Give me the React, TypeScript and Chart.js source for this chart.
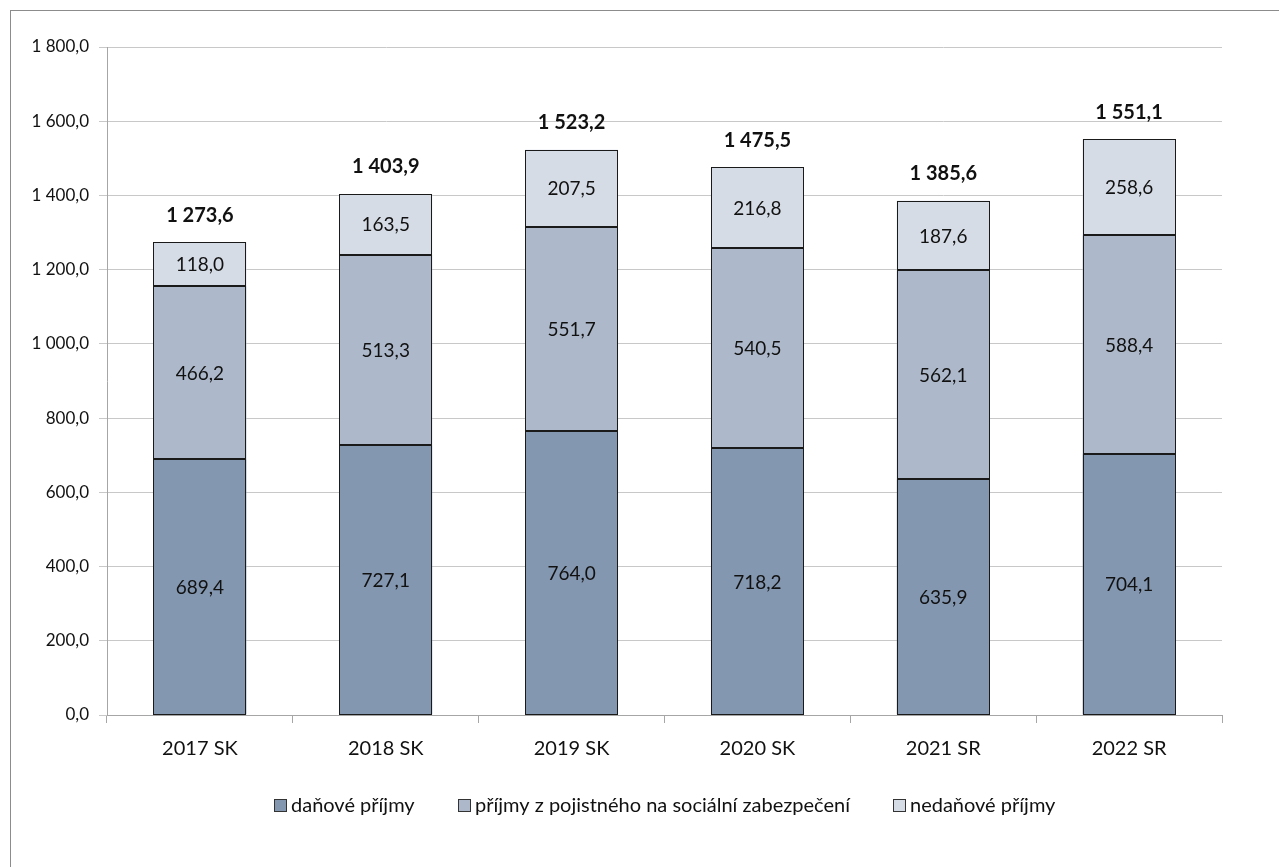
import React, { useEffect, useRef } from "react";
import { Chart, registerables } from "chart.js";

Chart.register(...registerables);

const categories = ["2017 SK", "2018 SK", "2019 SK", "2020 SK", "2021 SR", "2022 SR"];
const danovePrijmy = [689.4, 727.1, 764.0, 718.2, 635.9, 704.1];
const prijmyPoistne = [466.2, 513.3, 551.7, 540.5, 562.1, 588.4];
const nedanovePrijmy = [118.0, 163.5, 207.5, 216.8, 187.6, 258.6];
const totals = [1273.6, 1403.9, 1523.2, 1475.5, 1385.6, 1551.1];
const seriesNames = [
  "daňové příjmy",
  "příjmy z pojistného na sociální zabezpečení",
  "nedaňové příjmy",
];
const seriesColors = ["#8497b0", "#adb9ca", "#d6dce5"];

const FONT = "Lato, 'Open Sans', sans-serif";

function fmt(v: number): string {
  const fixed = v.toFixed(1);
  const [intPart, dec] = fixed.split(".");
  const withSpaces = intPart.replace(/\B(?=(\d{3})+(?!\d))/g, " ");
  return withSpaces + "," + dec;
}

const labelPlugin = {
  id: "barLabels",
  afterDatasetsDraw(chart: any) {
    const ctx = chart.ctx;
    ctx.save();
    // crisp outlines for each bar segment
    ctx.strokeStyle = "#1a1a1a";
    ctx.lineWidth = 1;
    chart.data.datasets.forEach((_ds: any, di: number) => {
      const meta = chart.getDatasetMeta(di);
      meta.data.forEach((el: any) => {
        const l = Math.round(el.x - el.width / 2) + 0.5;
        const r = Math.round(el.x + el.width / 2) - 0.5;
        const t = Math.round(Math.min(el.y, el.base)) + 0.5;
        const b = Math.round(Math.max(el.y, el.base)) - 0.5;
        ctx.strokeRect(l, t, r - l, b - t);
      });
    });
    ctx.textAlign = "center";
    ctx.textBaseline = "middle";
    ctx.fillStyle = "#111111";
    chart.data.datasets.forEach((ds: any, di: number) => {
      const meta = chart.getDatasetMeta(di);
      meta.data.forEach((el: any, i: number) => {
        const v = ds.data[i];
        const yc = (el.y + el.base) / 2;
        ctx.font = `19px ${FONT}`;
        ctx.fillText(fmt(v), el.x, yc + 1);
      });
    });
    const last = chart.getDatasetMeta(chart.data.datasets.length - 1);
    last.data.forEach((el: any, i: number) => {
      ctx.font = `bold 20px ${FONT}`;
      ctx.fillText(fmt(totals[i]), el.x, el.y - 27);
    });
    ctx.restore();
  },
};

const legendPlugin = {
  id: "customLegend",
  afterDraw(chart: any) {
    const ctx = chart.ctx;
    const area = chart.chartArea;
    ctx.save();
    ctx.font = `20px ${FONT}`;
    ctx.textBaseline = "middle";
    ctx.textAlign = "left";
    const box = 12;
    const gapText = 5;
    const gapItem = 43;
    const widths = chart.data.datasets.map((ds: any) => box + gapText + ctx.measureText(ds.label).width);
    const total = widths.reduce((a: number, b: number) => a + b, 0) + gapItem * (widths.length - 1);
    let x = Math.round((area.left + area.right) / 2 - total / 2);
    const y = 805;
    chart.data.datasets.forEach((ds: any, i: number) => {
      ctx.fillStyle = ds.backgroundColor;
      ctx.fillRect(x + 0.5, y - box / 2 + 0.5, box, box);
      ctx.strokeStyle = "#333333";
      ctx.lineWidth = 1;
      ctx.strokeRect(x + 0.5, y - box / 2 + 0.5, box, box);
      ctx.fillStyle = "#111111";
      ctx.fillText(ds.label, x + box + gapText, y + 1);
      x = Math.round(x + widths[i] + gapItem);
    });
    ctx.restore();
  },
};

export default function App() {
  const ref = useRef<HTMLCanvasElement | null>(null);
  useEffect(() => {
    if (!ref.current) return;
    const common = { borderWidth: 0, borderSkipped: false, inflateAmount: 0, barPercentage: 0.5, categoryPercentage: 1 };
    const chart = new Chart(ref.current, {
      type: "bar",
      data: {
        labels: categories,
        datasets: [
          { label: seriesNames[0], data: danovePrijmy, backgroundColor: seriesColors[0], ...common },
          { label: seriesNames[1], data: prijmyPoistne, backgroundColor: seriesColors[1], ...common },
          { label: seriesNames[2], data: nedanovePrijmy, backgroundColor: seriesColors[2], ...common },
        ],
      },
      options: {
        animation: false,
        responsive: true,
        maintainAspectRatio: false,
        layout: { padding: { left: 0, top: 47, right: 57, bottom: 92 } },
        plugins: {
          tooltip: { enabled: false },
          legend: { display: false },
        },
        scales: {
          x: {
            stacked: true,
            afterFit(scale: any) {
              scale.height = 60;
            },
            grid: { drawOnChartArea: false, drawTicks: true, tickLength: 8, color: "#a6a6a6", offset: true },
            border: { color: "#a6a6a6" },
            ticks: { color: "#111111", padding: 14, font: { family: FONT, size: 20 } },
          },
          y: {
            stacked: true,
            min: 0,
            max: 1800,
            afterFit(scale: any) {
              scale.width = 107;
            },
            grid: { color: "#c8c8c8", tickLength: 8 },
            border: { color: "#a6a6a6" },
            ticks: {
              stepSize: 200,
              padding: 10,
              color: "#111111",
              font: { family: FONT, size: 17 },
              callback: (v: any) => fmt(Number(v)),
            },
          },
        },
      } as any,
      plugins: [labelPlugin, legendPlugin],
    });
    return () => chart.destroy();
  }, []);

  return (
    <div style={{ position: "fixed", left: 0, top: 0, width: 1279, height: 867, overflow: "hidden", background: "#fff" }}>
      <div style={{ position: "absolute", left: 10, top: 10, width: 1300, height: 900, border: "1px solid #8c8c8c" }} />
      <div style={{ position: "absolute", left: 0, top: 0, width: 1279, height: 867 }}>
        <canvas ref={ref} />
      </div>
    </div>
  );
}
